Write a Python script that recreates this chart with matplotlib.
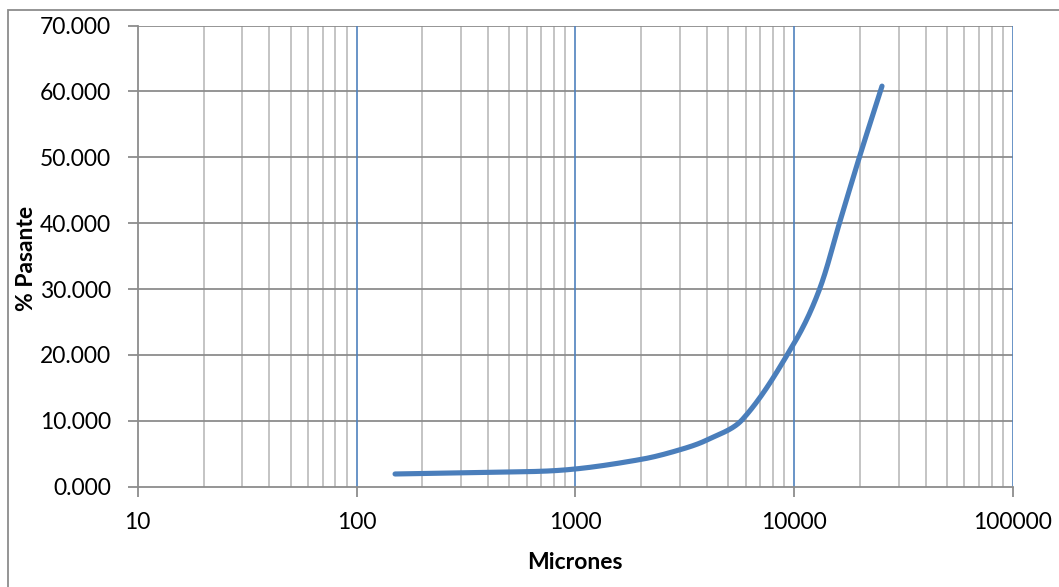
import numpy as np
import matplotlib
matplotlib.use("Agg")
import matplotlib.pyplot as plt
from matplotlib.patches import Rectangle

# Data (particle size in microns vs % passing)
micrones = [150, 380, 900, 2000, 3000, 4000, 5800, 10000, 13000, 16100, 19900, 25200]
pasante = [1.93, 2.18, 2.55, 4.15, 5.6, 7.1, 10.2, 21.8, 29.8, 40.0, 50.1, 60.8]

y_ticks = [0, 10, 20, 30, 40, 50, 60, 70]
x_ticks = [10, 100, 1000, 10000, 100000]
x_ticklabels = ["10", "100", "1000", "10000", "100000"]

FONT = "Lato"
FS = 16.5

def smooth(xs, ys, n=40):
    # Excel-like smoothed line: Bezier segments with control points scaled by segment length
    P = np.column_stack([xs, ys]).astype(float)
    S = np.array([1.0 / 219, 1.0 / 6.59])  # bring to roughly pixel-equal units
    Q = P / S
    m = len(Q)
    out = []
    for i in range(m - 1):
        p1, p2 = Q[i], Q[i + 1]
        p0 = Q[i - 1] if i > 0 else p1
        p3 = Q[i + 2] if i + 2 < m else p2
        d = np.linalg.norm(p2 - p1)
        t1 = p2 - p0
        t2 = p3 - p1
        n1 = np.linalg.norm(t1) or 1
        n2 = np.linalg.norm(t2) or 1
        c1 = p1 + t1 / n1 * d / 3.0
        c2 = p2 - t2 / n2 * d / 3.0
        t = np.linspace(0, 1, n, endpoint=False)[:, None]
        seg = ((1 - t) ** 3) * p1 + 3 * ((1 - t) ** 2) * t * c1 + 3 * (1 - t) * t ** 2 * c2 + t ** 3 * p2
        out.append(seg)
    out.append(Q[-1][None, :])
    out = np.vstack(out) * S
    return out[:, 0], out[:, 1]

fig = plt.figure(figsize=(10.59, 5.87), dpi=100)
ax = fig.add_axes([137.7 / 1059, 1 - 486.7 / 587, (1013 - 137.7) / 1059, (486.7 - 25.5) / 587])

# outer chart border
fig.patches.append(Rectangle((8 / 1059, -0.05), 1.2, 1 - 10 / 587 + 0.05, transform=fig.transFigure,
                             fill=False, edgecolor="#8c8c8c", linewidth=1.3))

ax.set_xscale("log")
ax.set_xlim(10, 100000)
ax.set_ylim(0, 70)

# gridlines
for dec in [10, 100, 1000, 10000]:
    for m in range(2, 10):
        ax.axvline(dec * m, color="#bfbfbf", lw=1.3, zorder=1)
for xv in [100, 1000, 10000, 100000]:
    ax.axvline(xv, color="#4f81bd", lw=1.2, zorder=1.5)
for yv in y_ticks[1:]:
    ax.axhline(yv, color="#8c8c8c", lw=1.3, zorder=1.2)

lx, ly = smooth(np.log10(micrones), pasante)
ax.plot(10 ** lx, ly, color="#4a7ebb", lw=3.7, solid_capstyle="round", zorder=3)

ax.set_yticks(y_ticks)
ax.set_yticklabels([f"{v:.3f}" for v in y_ticks])
ax.set_xticks(x_ticks)
ax.set_xticklabels(x_ticklabels)
ax.xaxis.set_minor_locator(matplotlib.ticker.NullLocator())

for sp in ["top", "right"]:
    ax.spines[sp].set_visible(False)
for sp in ["left", "bottom"]:
    ax.spines[sp].set_color("#8c8c8c")
    ax.spines[sp].set_linewidth(1.3)

ax.tick_params(axis="both", direction="out", length=7, width=1.3, color="#8c8c8c",
               labelsize=FS, labelcolor="black")
ax.tick_params(axis="y", pad=12)
ax.tick_params(axis="x", pad=11)
for lab in ax.get_xticklabels() + ax.get_yticklabels():
    lab.set_fontfamily(FONT)

ax.set_xlabel("Micrones", fontsize=FS, fontweight="bold", fontfamily=FONT, labelpad=14)
ax.set_ylabel("% Pasante", fontsize=FS, fontweight="bold", fontfamily=FONT)
ax.yaxis.set_label_coords((37 - 137.7) / (1013 - 137.7), (486.7 - 258) / (486.7 - 25.5))

fig.savefig("out.png", dpi=100)
